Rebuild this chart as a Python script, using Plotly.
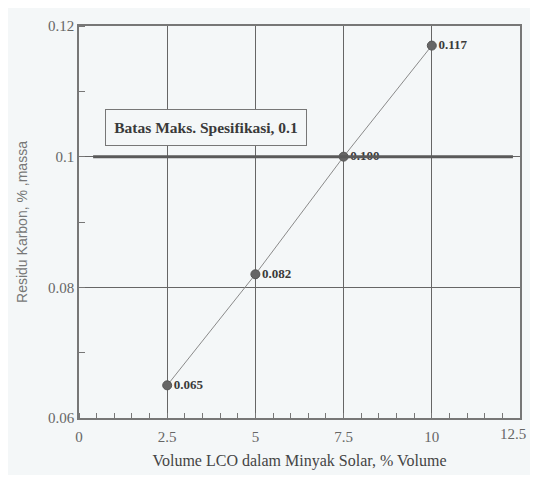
import plotly.graph_objects as go

lco_volume = [2.5, 5, 7.5, 10]
residu_karbon = [0.065, 0.082, 0.100, 0.117]
point_labels = ["0.065", "0.082", "0.100", "0.117"]
limit_x = [0.4, 12.3]
limit_y = [0.1, 0.1]
limit_text = "Batas Maks. Spesifikasi, 0.1"
x_ticks = [0, 2.5, 5, 7.5, 10, 12.5]
x_ticktext = ["0", "2.5", "5", "7.5", "10", "12.5"]
y_ticks = [0.06, 0.08, 0.1, 0.12]
y_ticktext = ["0.06", "0.08", "0.1", "0.12"]

SERIF = "Liberation Serif, Times New Roman, DejaVu Serif, serif"
BG = "#f4f7f8"
TICKFONT = dict(family=SERIF, size=15, color="#666666")

fig = go.Figure()
fig.add_trace(go.Scatter(
    x=lco_volume, y=residu_karbon, mode="lines+markers+text",
    text=point_labels, textposition="middle right",
    textfont=dict(family=SERIF, size=13, color="#3a3a3a", weight="bold"),
    line=dict(color="#8a8a8a", width=1),
    marker=dict(color="#666666", size=9, line=dict(color="#555555", width=1)),
    showlegend=False, cliponaxis=False,
))
fig.add_trace(go.Scatter(
    x=limit_x, y=limit_y, mode="lines",
    line=dict(color="#5a5a5a", width=3), showlegend=False,
))

fig.add_annotation(
    x=3.6, y=0.1044, xref="x", yref="y", text=limit_text, showarrow=False,
    font=dict(family=SERIF, size=15.5, color="#3a3a3a", weight="bold"),
    bordercolor="#777777", borderwidth=1, bgcolor=BG, width=196, height=31, borderpad=2,
)

# last x tick label sits at the page edge: draw it right-aligned so it is not hidden
fig.add_annotation(
    x=x_ticks[-1], y=0, xref="x", yref="paper", text=x_ticktext[-1], showarrow=False,
    xanchor="right", yanchor="top", xshift=8, yshift=-6, font=TICKFONT,
)

axis_common = dict(
    showline=True, mirror=True, linecolor="#777777", linewidth=1.5,
    showgrid=True, gridcolor="#666666", gridwidth=1, zeroline=False,
    ticks="", tickfont=TICKFONT,
)

fig.update_xaxes(
    range=[0, 12.5], tickvals=x_ticks, ticktext=x_ticktext[:-1] + [""],
    minor=dict(dtick=0.5, tick0=0, ticks="inside", ticklen=5, tickcolor="#777777", showgrid=False),
    ticklabelstandoff=4,
    title=dict(text="Volume LCO dalam Minyak Solar, % Volume",
               font=dict(family=SERIF, size=16, color="#444444"), standoff=11),
    **axis_common,
)
fig.update_yaxes(
    range=[0.06, 0.12], tickvals=y_ticks, ticktext=y_ticktext,
    minor=dict(dtick=0.01, tick0=0.06, ticks="inside", ticklen=6, tickcolor="#777777", showgrid=False),
    title=dict(text="Residu Karbon, % ,massa",
               font=dict(family="Liberation Sans, Arial, sans-serif", size=14, color="#777777"), standoff=17),
    **axis_common,
)

fig.update_layout(
    autosize=False,
    width=522, height=467,
    margin=dict(l=71, r=8, t=18, b=52),
    paper_bgcolor=BG, plot_bgcolor=BG,
)

fig.write_html("out.html")
